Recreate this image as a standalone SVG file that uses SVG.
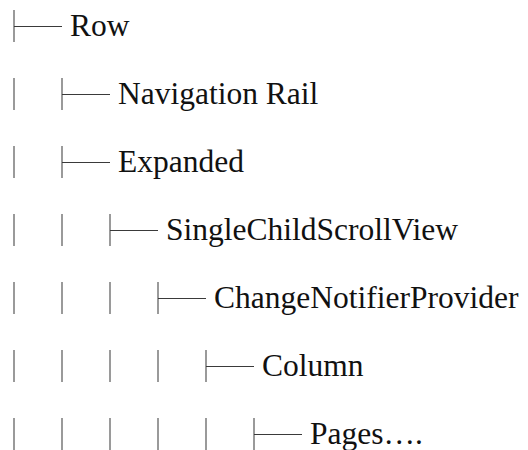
<svg xmlns="http://www.w3.org/2000/svg" width="528" height="450" viewBox="0 0 528 450">
  <style>
    .bar { stroke: #9a9a9a; stroke-width: 2; }
    .tick { stroke: #3a3a3a; stroke-width: 1; }
    .label { font-family: "Liberation Serif", "DejaVu Serif", serif; font-size: 31.5px; fill: #111111; }
  </style>
  <rect width="528" height="450" fill="#ffffff"/>

  <!-- tree guides: vertical bars per depth level, horizontal ticks to each item -->
  <g id="connectors">
    <!-- row 1 (center y=26) -->
    <line class="bar" x1="14" y1="10" x2="14" y2="42"/>
    <line class="tick" x1="14" y1="26.5" x2="62" y2="26.5"/>
    <!-- row 2 (center y=94) -->
    <line class="bar" x1="14" y1="78" x2="14" y2="110"/>
    <line class="bar" x1="62" y1="78" x2="62" y2="110"/>
    <line class="tick" x1="62" y1="94.5" x2="110" y2="94.5"/>
    <!-- row 3 (center y=162) -->
    <line class="bar" x1="14" y1="146" x2="14" y2="178"/>
    <line class="bar" x1="62" y1="146" x2="62" y2="178"/>
    <line class="tick" x1="62" y1="162.5" x2="110" y2="162.5"/>
    <!-- row 4 (center y=230) -->
    <line class="bar" x1="14" y1="214" x2="14" y2="246"/>
    <line class="bar" x1="62" y1="214" x2="62" y2="246"/>
    <line class="bar" x1="110" y1="214" x2="110" y2="246"/>
    <line class="tick" x1="110" y1="230.5" x2="158" y2="230.5"/>
    <!-- row 5 (center y=298) -->
    <line class="bar" x1="14" y1="282" x2="14" y2="314"/>
    <line class="bar" x1="62" y1="282" x2="62" y2="314"/>
    <line class="bar" x1="110" y1="282" x2="110" y2="314"/>
    <line class="bar" x1="158" y1="282" x2="158" y2="314"/>
    <line class="tick" x1="158" y1="298.5" x2="206" y2="298.5"/>
    <!-- row 6 (center y=366) -->
    <line class="bar" x1="14" y1="350" x2="14" y2="382"/>
    <line class="bar" x1="62" y1="350" x2="62" y2="382"/>
    <line class="bar" x1="110" y1="350" x2="110" y2="382"/>
    <line class="bar" x1="158" y1="350" x2="158" y2="382"/>
    <line class="bar" x1="206" y1="350" x2="206" y2="382"/>
    <line class="tick" x1="206" y1="366.5" x2="254" y2="366.5"/>
    <!-- row 7 (center y=434) -->
    <line class="bar" x1="14" y1="418" x2="14" y2="450"/>
    <line class="bar" x1="62" y1="418" x2="62" y2="450"/>
    <line class="bar" x1="110" y1="418" x2="110" y2="450"/>
    <line class="bar" x1="158" y1="418" x2="158" y2="450"/>
    <line class="bar" x1="206" y1="418" x2="206" y2="450"/>
    <line class="bar" x1="254" y1="418" x2="254" y2="450"/>
    <line class="tick" x1="254" y1="434.5" x2="302" y2="434.5"/>
  </g>

  <g id="node-row"><text class="label" x="70" y="36">Row</text></g>
  <g id="node-navigation-rail"><text class="label" x="118" y="104">Navigation Rail</text></g>
  <g id="node-expanded"><text class="label" x="118" y="172">Expanded</text></g>
  <g id="node-single-child-scroll-view"><text class="label" x="166" y="240">SingleChildScrollView</text></g>
  <g id="node-change-notifier-provider"><text class="label" x="214" y="308">ChangeNotifierProvider</text></g>
  <g id="node-column"><text class="label" x="262" y="376">Column</text></g>
  <g id="node-pages"><text class="label" x="310" y="444">Pages….</text></g>
</svg>
